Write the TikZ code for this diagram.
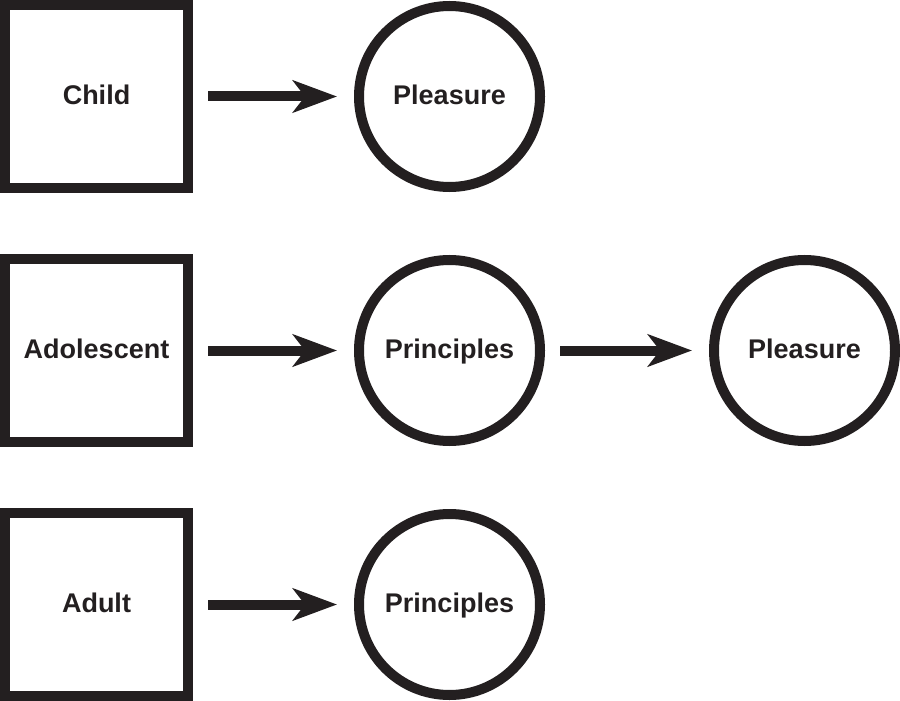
\documentclass[tikz,border=0pt]{standalone}
\usepackage{fontspec}
\setmainfont{Liberation Sans}
\usepackage{xcolor}
\definecolor{ink}{HTML}{231F20}
\usepackage{tikz}
\usetikzlibrary{arrows.meta, positioning}

\begin{document}
\begin{tikzpicture}[
        node distance=30.5pt and 80.5pt,
        stage/.style={draw=ink, rectangle, line width=5pt, minimum size=91.5pt, inner sep=0pt, text height=9.7pt, text depth=2pt, text=ink, font=\bfseries\fontsize{13.5}{16}\selectfont},
        outcome/.style={draw=ink, circle, line width=5pt, minimum size=90.5pt, inner sep=0pt, text height=9.7pt, text depth=2pt, text=ink, font=\bfseries\fontsize{13.5}{16}\selectfont},
        flow/.style={-{Stealth[length=22pt, width=16pt, inset=6pt]}, line width=5pt, draw=ink, fill=ink, shorten <=7.5pt, shorten >=8.5pt}
    ]
        \useasboundingbox (0pt,0pt) rectangle (450pt,-350.5pt);

        % Stages of life
        \node[stage] (child) at (48.25pt,-48.25pt) {Child};
        \node[stage, below=of child] (adolescent) {Adolescent};
        \node[stage, below=of adolescent] (adult) {Adult};

        % What drives each stage
        \node[outcome, right=of child] (pleasureA) {Pleasure};
        \node[outcome, right=of adolescent] (principlesB) {Principles};
        \node[outcome, right=82pt of principlesB] (pleasureB) {Pleasure};
        \node[outcome, right=of adult] (principlesC) {Principles};

        % Arrows
        \draw[flow] (child) -- (pleasureA);
        \draw[flow] (adolescent) -- (principlesB);
        \draw[flow] (principlesB) -- (pleasureB);
        \draw[flow] (adult) -- (principlesC);

    \end{tikzpicture}
\end{document}
